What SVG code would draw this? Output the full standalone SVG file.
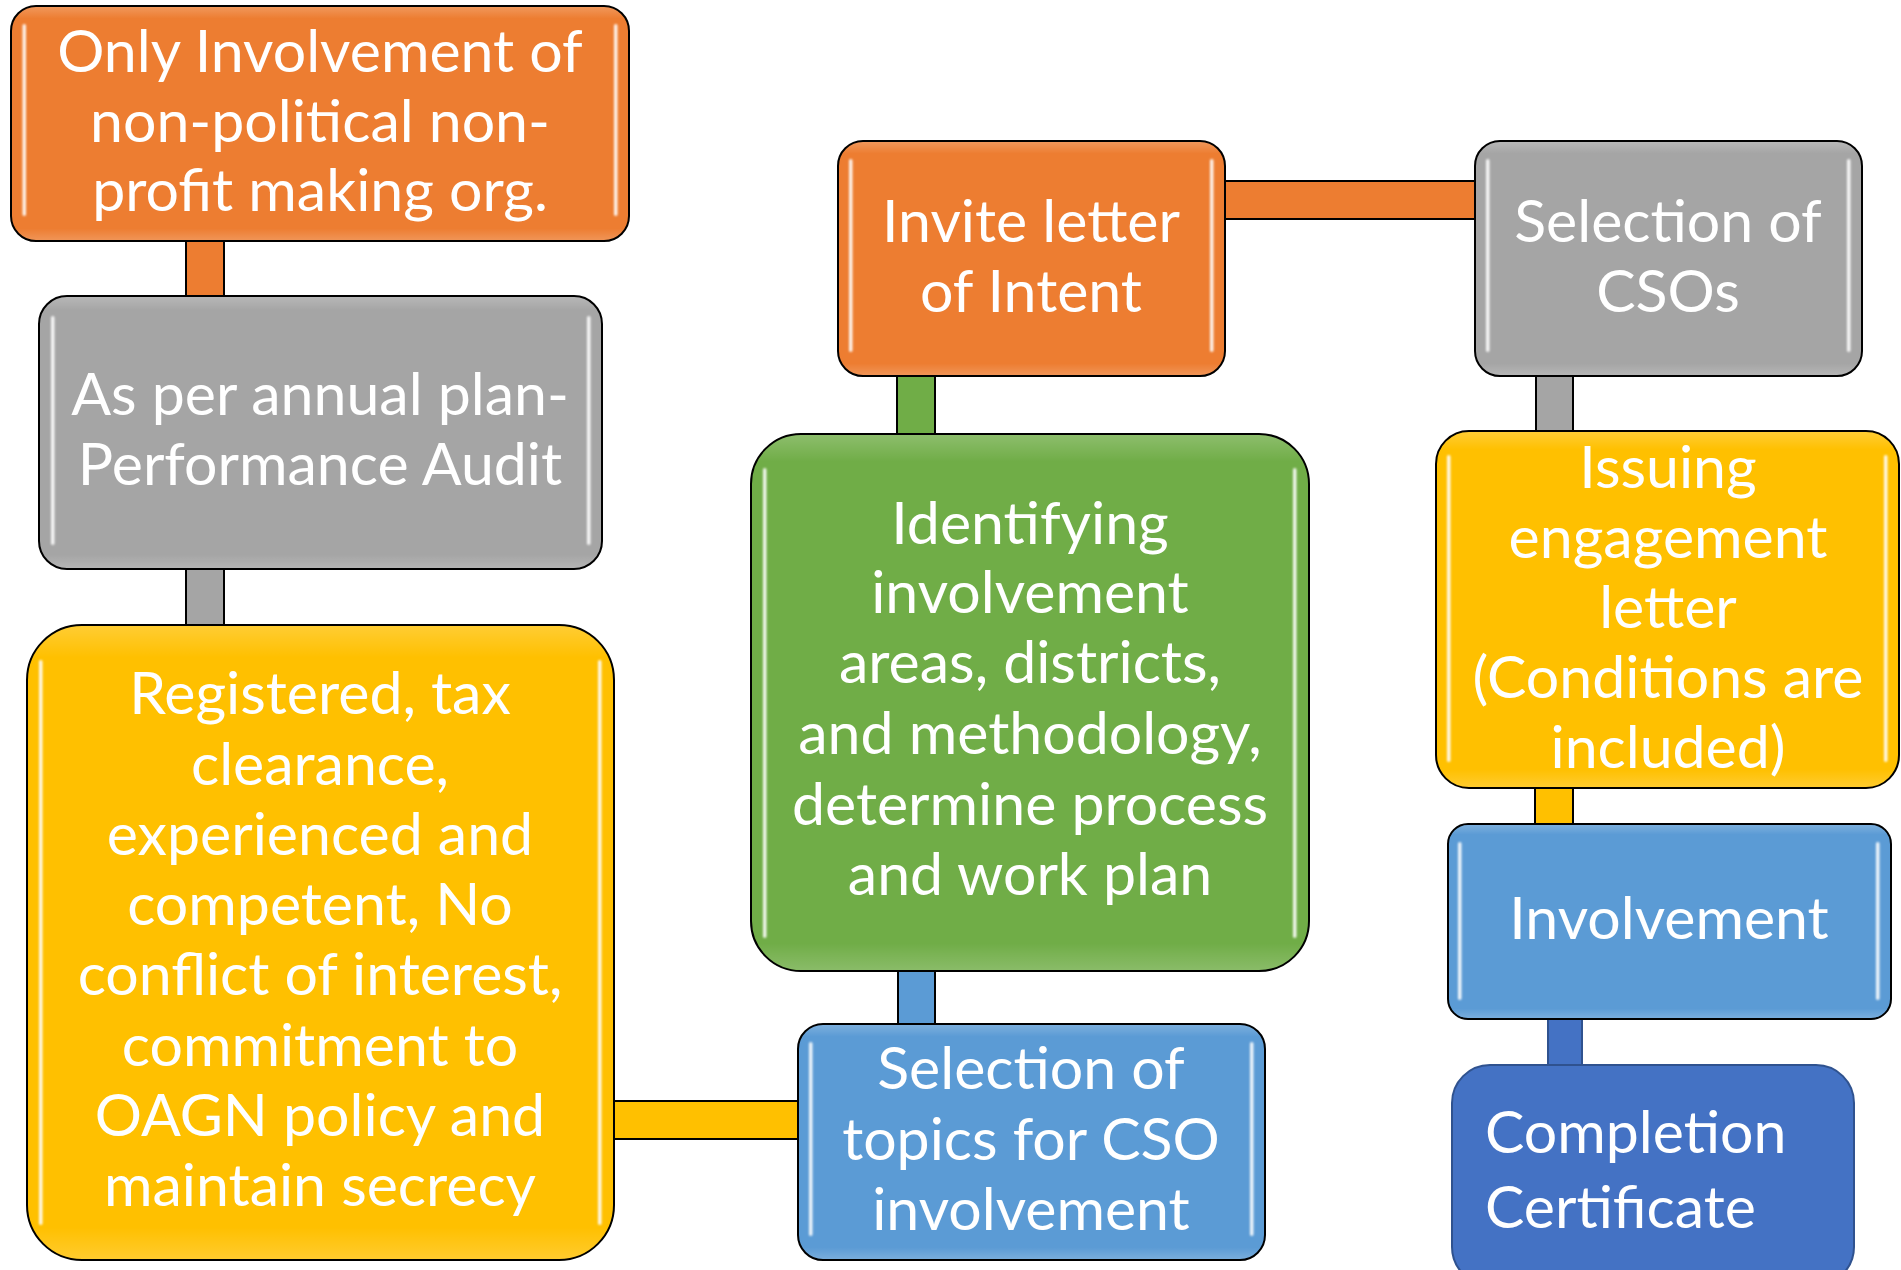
<svg xmlns="http://www.w3.org/2000/svg" width="1901" height="1270" viewBox="0 0 1901 1270">
  <defs>
    <filter id="soft" filterUnits="userSpaceOnUse" x="0" y="0" width="1901" height="1270">
      <feGaussianBlur stdDeviation="1"/>
    </filter>
    <linearGradient id="sheen" x1="0" y1="0" x2="0" y2="1">
      <stop offset="0" stop-color="#fff" stop-opacity="0.2"/>
      <stop offset="0.05" stop-color="#fff" stop-opacity="0"/>
      <stop offset="0.95" stop-color="#fff" stop-opacity="0"/>
      <stop offset="1" stop-color="#fff" stop-opacity="0.18"/>
    </linearGradient>
  </defs>
  <style>
    .box { stroke: #000; stroke-width: 2; }
    .orange { fill: #ED7D31; }
    .gray { fill: #A5A5A5; }
    .yellow { fill: #FFC000; }
    .green { fill: #70AD47; }
    .blue { fill: #5B9BD5; }
    .sheen { fill: url(#sheen); stroke: none; }
    .hl { fill: #fff; opacity: 0.9; filter: url(#soft); }
    .bar { stroke: #000; stroke-width: 2; }
    .lbl { font-family: Lato, "Liberation Sans", sans-serif; font-size: 59px; fill: #fff; text-anchor: middle; }
    .lbl-left { font-family: Lato, "Liberation Sans", sans-serif; font-size: 59px; fill: #fff; }
  </style>

  <rect width="1901" height="1270" fill="#fff"/>

  <!-- connectors, drawn beneath the boxes -->
  <g id="connectors">
    <rect class="bar orange" x="186" y="235" width="38" height="66"/>
    <rect class="bar gray" x="186" y="564" width="38" height="66"/>
    <rect class="bar yellow" x="606" y="1101" width="198" height="38"/>
    <rect class="bar blue" x="898" y="964" width="37" height="66"/>
    <rect class="bar green" x="897" y="370" width="38" height="70"/>
    <rect class="bar orange" x="1219" y="181" width="262" height="38"/>
    <rect class="bar gray" x="1536" y="370" width="37" height="67"/>
    <rect class="bar yellow" x="1535" y="782" width="38" height="48"/>
    <rect x="1548" y="1013" width="34" height="58" fill="#4472C4" stroke="#2F528F" stroke-width="2"/>
  </g>

  <g id="node-nonpolitical">
    <rect class="box orange" x="11" y="6" width="618" height="235" rx="25"/>
    <rect class="sheen" x="12" y="7" width="616" height="233" rx="24"/>
    <rect class="hl" x="22.5" y="24" width="3.5" height="192" rx="1.7"/>
    <rect class="hl" x="614" y="24" width="3.5" height="192" rx="1.7"/>
    <text class="lbl" x="320" y="72">Only Involvement of</text>
    <text class="lbl" x="320" y="142">non-political non-</text>
    <text class="lbl" x="320" y="211">profit making org.</text>
  </g>

  <g id="node-annual-plan">
    <rect class="box gray" x="39" y="296" width="563" height="273" rx="28"/>
    <rect class="sheen" x="40" y="297" width="561" height="271" rx="27"/>
    <rect class="hl" x="51" y="316" width="3.5" height="229" rx="1.7"/>
    <rect class="hl" x="587" y="316" width="3.5" height="229" rx="1.7"/>
    <text class="lbl" x="320" y="415">As per annual plan-</text>
    <text class="lbl" x="320" y="485">Performance Audit</text>
  </g>

  <g id="node-criteria">
    <rect class="box yellow" x="27" y="625" width="587" height="635" rx="55"/>
    <rect class="sheen" x="28" y="626" width="585" height="633" rx="54"/>
    <rect class="hl" x="39" y="660" width="3.5" height="565" rx="1.7"/>
    <rect class="hl" x="598" y="660" width="3.5" height="565" rx="1.7"/>
    <text class="lbl" x="320" y="714">Registered, tax</text>
    <text class="lbl" x="320" y="785">clearance,</text>
    <text class="lbl" x="320" y="855">experienced and</text>
    <text class="lbl" x="320" y="925">competent, No</text>
    <text class="lbl" x="320" y="995">conflict of interest,</text>
    <text class="lbl" x="320" y="1066">commitment to</text>
    <text class="lbl" x="320" y="1136">OAGN policy and</text>
    <text class="lbl" x="320" y="1206">maintain secrecy</text>
  </g>

  <g id="node-topics">
    <rect class="box blue" x="798" y="1024" width="467" height="236" rx="25"/>
    <rect class="sheen" x="799" y="1025" width="465" height="234" rx="24"/>
    <rect class="hl" x="809" y="1042" width="3.5" height="194" rx="1.7"/>
    <rect class="hl" x="1250" y="1042" width="3.5" height="194" rx="1.7"/>
    <text class="lbl" x="1031" y="1089">Selection of</text>
    <text class="lbl" x="1031" y="1160">topics for CSO</text>
    <text class="lbl" x="1031" y="1230">involvement</text>
  </g>

  <g id="node-identifying">
    <rect class="box green" x="751" y="434" width="558" height="537" rx="50"/>
    <rect class="sheen" x="752" y="435" width="556" height="535" rx="49"/>
    <rect class="hl" x="763" y="468" width="3.5" height="470" rx="1.7"/>
    <rect class="hl" x="1293" y="468" width="3.5" height="470" rx="1.7"/>
    <text class="lbl" x="1030" y="544">Identifying</text>
    <text class="lbl" x="1030" y="613">involvement</text>
    <text class="lbl" x="1030" y="683">areas, districts,</text>
    <text class="lbl" x="1030" y="754">and methodology,</text>
    <text class="lbl" x="1030" y="825">determine process</text>
    <text class="lbl" x="1030" y="895">and work plan</text>
  </g>

  <g id="node-invite">
    <rect class="box orange" x="838" y="141" width="387" height="235" rx="25"/>
    <rect class="sheen" x="839" y="142" width="385" height="233" rx="24"/>
    <rect class="hl" x="849" y="159" width="3.5" height="193" rx="1.7"/>
    <rect class="hl" x="1210" y="159" width="3.5" height="193" rx="1.7"/>
    <text class="lbl" x="1031" y="242">Invite letter</text>
    <text class="lbl" x="1031" y="312">of Intent</text>
  </g>

  <g id="node-select-cso">
    <rect class="box gray" x="1475" y="141" width="387" height="235" rx="25"/>
    <rect class="sheen" x="1476" y="142" width="385" height="233" rx="24"/>
    <rect class="hl" x="1486" y="159" width="3.5" height="193" rx="1.7"/>
    <rect class="hl" x="1847" y="159" width="3.5" height="193" rx="1.7"/>
    <text class="lbl" x="1668" y="242">Selection of</text>
    <text class="lbl" x="1668" y="312">CSOs</text>
  </g>

  <g id="node-engagement">
    <rect class="box yellow" x="1436" y="431" width="463" height="357" rx="33"/>
    <rect class="sheen" x="1437" y="432" width="461" height="355" rx="32"/>
    <rect class="hl" x="1447" y="455" width="3.5" height="307" rx="1.7"/>
    <rect class="hl" x="1884" y="455" width="3.5" height="307" rx="1.7"/>
    <text class="lbl" x="1668" y="488">Issuing</text>
    <text class="lbl" x="1668" y="558">engagement</text>
    <text class="lbl" x="1668" y="628">letter</text>
    <text class="lbl" x="1668" y="698">(Conditions are</text>
    <text class="lbl" x="1668" y="768">included)</text>
  </g>

  <g id="node-involvement">
    <rect class="box blue" x="1448" y="824" width="443" height="195" rx="20"/>
    <rect class="sheen" x="1449" y="825" width="441" height="193" rx="19"/>
    <rect class="hl" x="1458" y="842" width="3.5" height="158" rx="1.7"/>
    <rect class="hl" x="1876" y="842" width="3.5" height="158" rx="1.7"/>
    <text class="lbl" x="1669" y="939">Involvement</text>
  </g>

  <g id="node-completion">
    <rect x="1452" y="1065" width="402" height="220" rx="38" fill="#4472C4" stroke="#2F528F" stroke-width="2"/>
    <text class="lbl-left" x="1485" y="1153">Completion</text>
    <text class="lbl-left" x="1485" y="1228">Certificate</text>
  </g>
</svg>
